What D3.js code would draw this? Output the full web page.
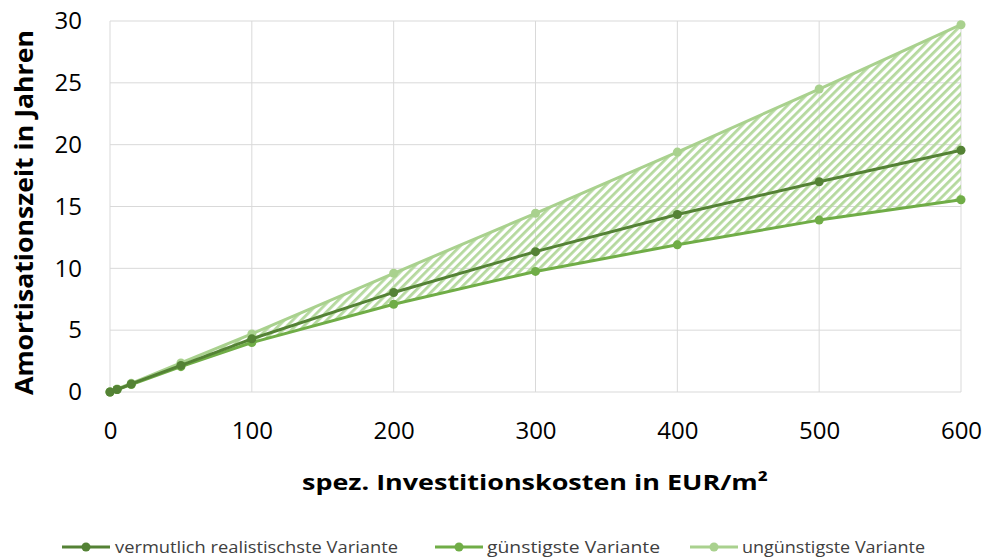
<!DOCTYPE html>
<html>
<head>
<meta charset="utf-8">
<script src="https://cdn.jsdelivr.net/npm/d3@7"></script>
<style>
  html, body { margin: 0; padding: 0; background: #fff; }
  svg { display: block; font-family: "Open Sans", Lato, sans-serif; }
</style>
</head>
<body>
<svg id="chart" width="987" height="558"></svg>
<script>
// Investment cost (EUR/m²) on the x axis
const costs = [0, 5, 15, 50, 100, 200, 300, 400, 500, 600];
// Payback period in years for each scenario
const realistic   = [0, 0.2, 0.65, 2.15, 4.3, 8.05, 11.35, 14.35, 17.0, 19.55];
const favourable  = [0, 0.2, 0.6, 2.05, 4.0, 7.1, 9.75, 11.9, 13.9, 15.55];
const unfavourable = [0, 0.25, 0.7, 2.35, 4.7, 9.6, 14.45, 19.4, 24.5, 29.7];

const seriesNames = ["vermutlich realistischste Variante", "günstigste Variante", "ungünstigste Variante"];
const seriesColors = ["#548235", "#70AD47", "#A9D18E"];
const xTicks = [0, 100, 200, 300, 400, 500, 600];
const yTicks = [0, 5, 10, 15, 20, 25, 30];

const svg = d3.select("#chart");
const margin = { left: 110, right: 26, top: 21, bottom: 166 };
const W = 987, H = 558;

const x = d3.scaleLinear().domain([0, 600]).range([margin.left, W - margin.right]);
const y = d3.scaleLinear().domain([0, 30]).range([H - margin.bottom, margin.top]);

// Hatch pattern for the band between best and worst case
const defs = svg.append("defs");
const pat = defs.append("pattern")
  .attr("id", "hatch")
  .attr("patternUnits", "userSpaceOnUse")
  .attr("width", 6).attr("height", 6)
  .attr("patternTransform", "rotate(45)");
pat.append("rect").attr("x", 0).attr("y", 0).attr("width", 2.8).attr("height", 6)
  .attr("fill", "#B5D99E");

// Gridlines
const grid = svg.append("g");
grid.selectAll("line.v").data(xTicks).join("line")
  .attr("x1", d => x(d)).attr("x2", d => x(d))
  .attr("y1", y(0)).attr("y2", y(30))
  .attr("stroke", "#d9d9d9").attr("stroke-width", 1);
grid.selectAll("line.h").data(yTicks).join("line")
  .attr("x1", x(0)).attr("x2", x(600))
  .attr("y1", d => y(d)).attr("y2", d => y(d))
  .attr("stroke", "#d9d9d9").attr("stroke-width", 1);

// Axes (labels only, Excel style)
const xAxis = svg.append("g")
  .attr("transform", `translate(0,${y(0)})`)
  .call(d3.axisBottom(x).tickValues(xTicks).tickSize(0).tickPadding(30));
xAxis.select(".domain").remove();
xAxis.selectAll("text").attr("font-size", 24).attr("fill", "#000")
  .attr("font-family", "'Open Sans', sans-serif");

const yAxis = svg.append("g")
  .attr("transform", `translate(${x(0)},0)`)
  .call(d3.axisLeft(y).tickValues(yTicks).tickSize(0).tickPadding(28));
yAxis.select(".domain").remove();
yAxis.selectAll("text").attr("font-size", 24).attr("fill", "#000")
  .attr("font-family", "'Open Sans', sans-serif");

// Band between favourable and unfavourable
const bandData = costs.map((c, i) => ({ c, lo: favourable[i], hi: unfavourable[i] }));
svg.append("path")
  .datum(bandData)
  .attr("fill", "url(#hatch)")
  .attr("d", d3.area().x(d => x(d.c)).y0(d => y(d.lo)).y1(d => y(d.hi)));

// Lines and markers
const allSeries = [unfavourable, favourable, realistic];
const colorsDraw = [seriesColors[2], seriesColors[1], seriesColors[0]];
const line = d3.line().x(d => x(d.c)).y(d => y(d.v));
allSeries.forEach((vals, k) => {
  const pts = costs.map((c, i) => ({ c, v: vals[i] }));
  svg.append("path").datum(pts)
    .attr("fill", "none")
    .attr("stroke", colorsDraw[k])
    .attr("stroke-width", 3)
    .attr("stroke-linejoin", "round")
    .attr("d", line);
  svg.append("g").selectAll("circle").data(pts).join("circle")
    .attr("cx", d => x(d.c)).attr("cy", d => y(d.v))
    .attr("r", 4.5).attr("fill", colorsDraw[k]);
});

// Axis titles
svg.append("text")
  .attr("x", 535).attr("y", 490)
  .attr("text-anchor", "middle")
  .attr("font-size", 22).attr("font-weight", "bold")
  .attr("font-family", "'Open Sans', sans-serif")
  .attr("textLength", 466).attr("lengthAdjust", "spacingAndGlyphs")
  .text("spez. Investitionskosten in EUR/m²");

svg.append("text")
  .attr("transform", `translate(33,${(30 + 395) / 2}) rotate(-90)`)
  .attr("text-anchor", "middle")
  .attr("font-size", 25).attr("font-weight", "bold")
  .attr("font-family", "'Open Sans', sans-serif")
  .attr("textLength", 365).attr("lengthAdjust", "spacingAndGlyphs")
  .text("Amortisationszeit in Jahren");

// Legend
const legendItems = [
  { name: seriesNames[0], color: seriesColors[0], x0: 62, tx: 115, tw: 283 },
  { name: seriesNames[1], color: seriesColors[1], x0: 435, tx: 487, tw: 173 },
  { name: seriesNames[2], color: seriesColors[2], x0: 690, tx: 742, tw: 183 }
];
const lg = svg.append("g");
const ly = 547;
legendItems.forEach(it => {
  lg.append("line").attr("x1", it.x0).attr("x2", it.x0 + 48)
    .attr("y1", ly).attr("y2", ly)
    .attr("stroke", it.color).attr("stroke-width", 3);
  lg.append("circle").attr("cx", it.x0 + 24).attr("cy", ly).attr("r", 4.5).attr("fill", it.color);
  lg.append("text").attr("x", it.tx).attr("y", ly + 6)
    .attr("font-size", 17).attr("fill", "#404040")
    .attr("font-family", "'Open Sans', sans-serif")
    .attr("textLength", it.tw).attr("lengthAdjust", "spacingAndGlyphs")
    .text(it.name);
});
</script>
</body>
</html>
